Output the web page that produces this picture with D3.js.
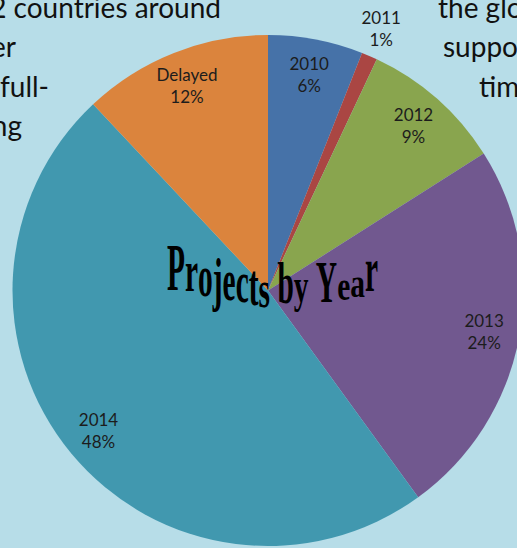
<!DOCTYPE html>
<html>
<head>
<meta charset="utf-8">
<script src="https://cdn.jsdelivr.net/npm/d3@7"></script>
<style>
  html, body { margin: 0; padding: 0; background: #b7dde8; overflow: hidden; }
  svg { display: block; }
</style>
</head>
<body>
<div id="chart"></div>
<script>
// Data
const years = ["2010", "2011", "2012", "2013", "2014", "Delayed"];
const shares = [6, 1, 9, 24, 48, 12];
const sliceColors = ["#4672a8", "#aa4643", "#89a54e", "#71588f", "#4198af", "#db843d"];
const outsideLabels = ["2011"];

// Paragraph text sitting behind the chart (partly covered)
const leftLines = ["2 countries around", "er", " full-", "ng"];
const rightLines = ["the glo", "suppo", "tim"];

const titleText = "Projects by Year";
// WordArt warp: per-letter baseline and vertical stretch
const titleBase = [290, 291, 296, 299, 300, 302, 305, 307, 305, 303, 302, 302, 302, 300, 297, 291];
const titleStretch = [2.6, 2.3, 2.3, 2.3, 2.25, 2.25, 2.3, 2.0, 2.0, 2.25, 1.9, 2.0, 2.3, 1.6, 1.5, 2.4];

const W = 517, H = 548;
const cx = 268, cy = 290.5, R = 255.5;

const svg = d3.select("#chart")
    .append("svg")
    .attr("width", W)
    .attr("height", H);

svg.append("rect")
    .attr("width", W)
    .attr("height", H)
    .attr("fill", "#b7dde8");

// Background paragraph
const para = svg.append("g")
    .style("font-family", "Lato, 'Open Sans', sans-serif")
    .style("font-size", "28px")
    .style("fill", "#111");

const leftEnds = [221, 16, 49, 22];
para.selectAll(".left-line")
    .data(leftLines)
    .enter()
    .append("text")
    .attr("class", "left-line")
    .attr("x", (d, i) => leftEnds[i])
    .attr("y", (d, i) => 18 + i * 39.3)
    .attr("text-anchor", "end")
    .text(d => d);

const rightStarts = [438, 443, 479];
para.selectAll(".right-line")
    .data(rightLines)
    .enter()
    .append("text")
    .attr("class", "right-line")
    .attr("x", (d, i) => rightStarts[i])
    .attr("y", (d, i) => 18 + i * 39.3)
    .text(d => d);

// Pie
const pieData = years.map((y, i) => ({ year: y, value: shares[i], color: sliceColors[i] }));
const pie = d3.pie().sort(null).value(d => d.value);
const arcs = pie(pieData);

const arc = d3.arc().innerRadius(0).outerRadius(R);
const labelArc = d3.arc().innerRadius(220).outerRadius(220);
const outerArc = d3.arc().innerRadius(285).outerRadius(285);

const g = svg.append("g")
    .attr("transform", `translate(${cx},${cy})`);

g.selectAll(".slice")
    .data(arcs)
    .enter()
    .append("path")
    .attr("class", "slice")
    .attr("d", arc)
    .attr("fill", d => d.data.color);

const labels = g.selectAll(".slice-label")
    .data(arcs)
    .enter()
    .append("text")
    .attr("class", "slice-label")
    .attr("transform", d => {
        const p = outsideLabels.includes(d.data.year) ? outerArc.centroid(d) : labelArc.centroid(d);
        return `translate(${p[0]},${p[1]})`;
    })
    .attr("text-anchor", "middle")
    .style("font-family", "Lato, 'Open Sans', sans-serif")
    .style("font-size", "17px")
    .style("fill", "#1c1c1c");

labels.append("tspan")
    .attr("x", 0)
    .attr("y", -11)
    .attr("dominant-baseline", "central")
    .text(d => d.data.year);

labels.append("tspan")
    .attr("x", 0)
    .attr("y", 11)
    .attr("dominant-baseline", "central")
    .text(d => d.data.value + "%");

// Title (warped WordArt)
const title = svg.append("g")
    .style("font-family", "'Liberation Serif', 'DejaVu Serif', serif")
    .style("font-weight", "bold")
    .style("font-size", "26px")
    .style("fill", "#000");

const chars = titleText.split("");
const measure = title.append("text").attr("opacity", 0);
const widths = chars.map(c => {
    measure.text(c === " " ? "\u00a0" : c);
    return measure.node().getComputedTextLength();
});
measure.remove();

const totalW = d3.sum(widths);
const x0 = 167, x1 = 378;
const sx = (x1 - x0) / totalW;
let acc = 0;
const starts = widths.map(w => { const s = acc; acc += w; return s; });

title.selectAll(".title-char")
    .data(chars)
    .enter()
    .append("text")
    .attr("class", "title-char")
    .attr("transform", (d, i) =>
        `translate(${x0 + starts[i] * sx},${titleBase[i]}) scale(${sx},${titleStretch[i]})`)
    .text(d => d === " " ? "" : d);
</script>
</body>
</html>
